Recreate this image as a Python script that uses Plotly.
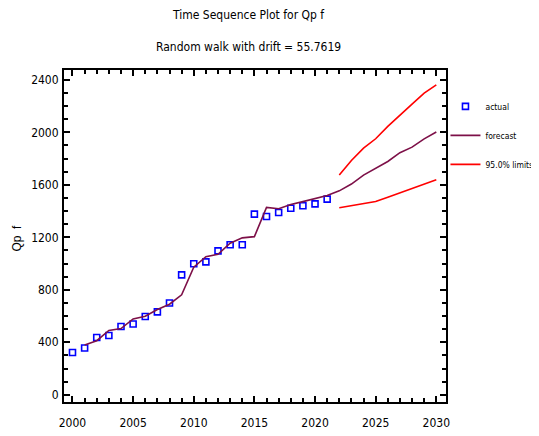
import plotly.graph_objects as go

years_actual = list(range(2000, 2022))
actual = [322, 356, 437, 452, 520, 539, 597, 632, 699, 914, 998, 1013, 1097, 1143, 1143,
          1377, 1359, 1389, 1422, 1440, 1455, 1491]

years_forecast = list(range(2001, 2031))
forecast = [380, 412, 490, 505, 578, 598, 650, 690, 762, 972, 1052, 1071, 1155, 1196, 1205,
            1428, 1418, 1450, 1472, 1493, 1518, 1554, 1606, 1674, 1727, 1778, 1845, 1887, 1950, 2002]

years_limits = list(range(2022, 2031))
upper = [1674, 1785, 1880, 1951, 2045, 2134, 2215, 2299, 2362]
lower = [1425, 1441, 1457, 1473, 1506, 1539, 1572, 1605, 1638]

NARROW = "DejaVu Sans Condensed, Liberation Sans, sans-serif"

fig = go.Figure()
fig.add_trace(go.Scatter(x=years_actual, y=actual, mode="markers", name="actual",
                         legendgroup="a",
                         marker=dict(symbol="square-open", size=6, color="#0000ff",
                                     line=dict(width=1.6, color="#0000ff"))))
fig.add_trace(go.Scatter(x=years_forecast, y=forecast, mode="lines", name="forecast",
                         legendgroup="f",
                         line=dict(color="#7d1048", width=1.6)))
fig.add_trace(go.Scatter(x=years_limits, y=upper, mode="lines", name="95.0% limits",
                         legendgroup="l",
                         line=dict(color="#ff0000", width=1.6)))
fig.add_trace(go.Scatter(x=years_limits, y=lower, mode="lines", name="95.0% limits",
                         legendgroup="l", showlegend=False,
                         line=dict(color="#ff0000", width=1.6)))

axis_common = dict(showgrid=False, zeroline=False, showline=True, linecolor="black",
                   linewidth=2, mirror="allticks", ticks="inside", tickcolor="black",
                   ticklen=6, tickwidth=1.5,
                   tickfont=dict(family=NARROW, size=12, color="black"))

fig.update_layout(
    width=531, height=428,
    margin=dict(l=56, r=93, t=62, b=34, autoexpand=False),
    paper_bgcolor="white", plot_bgcolor="white",
    showlegend=True,
    legend=dict(x=0.999, y=0.804, xref="container", yref="container",
                xanchor="right", yanchor="top",
                font=dict(family=NARROW, size=8.5, color="black"),
                tracegroupgap=10, bgcolor="rgba(0,0,0,0)", borderwidth=0),
    xaxis=dict(range=[1999.3, 2030.8], tickmode="array",
               tickvals=[2000, 2005, 2010, 2015, 2020, 2025, 2030],
               ticktext=["2000", "2005", "2010", "2015", "2020", "2025", "2030"],
               ticklabelstandoff=9,
               minor=dict(dtick=1, tick0=2000, ticks="inside", ticklen=4,
                          tickcolor="black", tickwidth=1.5),
               **axis_common),
    yaxis=dict(range=[-55, 2475], tickmode="array",
               tickvals=[0, 400, 800, 1200, 1600, 2000, 2400],
               ticktext=["0", "400", "800", "1200", "1600", "2000", "2400"],
               ticklabelstandoff=1,
               minor=dict(dtick=100, tick0=0, ticks="inside", ticklen=4,
                          tickcolor="black", tickwidth=1.5),
               **axis_common),
    annotations=[
        dict(text="Time Sequence Plot for Qp f", xref="paper", yref="paper",
             x=0.4817, y=1.166, xanchor="center", yanchor="middle", showarrow=False,
             font=dict(family=NARROW, size=12, color="black")),
        dict(text="Random walk with drift = 55.7619", xref="paper", yref="paper",
             x=0.4817, y=1.0678, xanchor="center", yanchor="middle", showarrow=False,
             font=dict(family=NARROW, size=12, color="black")),
        dict(text="Qp  f", xref="paper", yref="paper", x=-0.124, y=0.494,
             xanchor="center", yanchor="middle", textangle=-90, showarrow=False,
             font=dict(family="Liberation Sans, Arial, sans-serif", size=12, color="black")),
    ],
)

fig.write_html("out.html")
